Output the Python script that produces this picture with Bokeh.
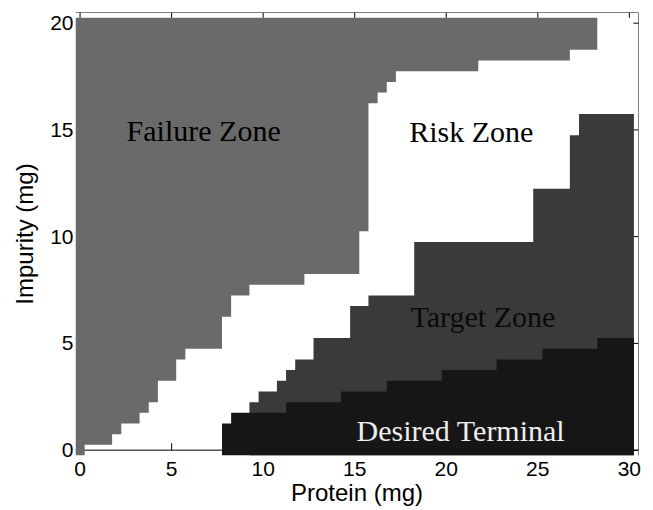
from bokeh.plotting import figure
from bokeh.models import Range1d, Span, FixedTicker
from bokeh.embed import file_html
from bokeh.resources import INLINE
from bokeh.core.properties import value

# ---- data (0.5 mg grid; each run covers grid columns from start to end) ----
grid_step = 0.5
impurity_max = 20.0

# Failure zone: column runs and the lowest impurity grid value that is failure
fail_x_start = [0.0, 0.5, 2.0, 2.5, 3.5, 4.0, 4.5, 5.5, 6.0, 8.0, 8.5, 9.5, 12.5, 15.5, 16.0, 16.5, 17.0, 17.5, 22.0, 27.0]
fail_x_end   = [0.0, 1.5, 2.0, 3.0, 3.5, 4.0, 5.0, 5.5, 7.5, 8.0, 9.0, 12.0, 15.0, 15.5, 16.0, 16.5, 17.0, 21.5, 26.5, 28.0]
fail_y_low   = [0.0, 0.5, 1.0, 1.5, 2.0, 2.5, 3.5, 4.5, 5.0, 6.5, 7.5, 8.0, 8.5, 10.5, 16.5, 17.0, 17.5, 18.0, 18.5, 19.0]

# Target zone: column runs and the highest impurity grid value in the target zone
tgt_x_start = [9.5, 10.0, 11.0, 11.5, 12.0, 13.0, 15.0, 16.0, 18.5, 25.0, 27.0, 27.5]
tgt_x_end   = [9.5, 10.5, 11.0, 11.5, 12.5, 14.5, 15.5, 18.0, 24.5, 26.5, 27.0, 30.0]
tgt_y_high  = [2.0, 2.5, 3.0, 3.5, 4.0, 5.0, 6.5, 7.0, 9.5, 12.0, 14.5, 15.5]

# Desired terminal: column runs and the highest impurity grid value
des_x_start = [8.0, 8.5, 11.5, 14.5, 17.0, 20.0, 23.0, 25.5, 28.5]
des_x_end   = [8.0, 11.0, 14.0, 16.5, 19.5, 22.5, 25.0, 28.0, 30.0]
des_y_high  = [1.0, 1.5, 2.0, 2.5, 3.0, 3.5, 4.0, 4.5, 5.0]

zone_names = ["Failure Zone", "Risk Zone", "Target Zone", "Desired Terminal"]
zone_label_x = [6.75, 21.37, 22.0, 20.8]
zone_label_y = [14.97, 14.94, 6.25, 0.9]
zone_label_colors = ["#000000", "#000000", "#0a0a0a", "#eeeeee"]

x_ticks = [0, 5, 10, 15, 20, 25, 30]
y_ticks = [0, 5, 10, 15, 20]

x_lo, x_hi = -0.25, 30.5
y_lo, y_hi = -0.25, 20.5

# ---- helpers turning runs into step outlines ----
h = grid_step / 2


def top_steps(xs, xe, yh, base):
    """Outline of a region from `base` up to a stepped top edge."""
    px = [xs[0] - h]
    py = [base]
    for s, e, t in zip(xs, xe, yh):
        px += [s - h, e + h]
        py += [t + h, t + h]
    px.append(xe[-1] + h)
    py.append(base)
    return px, py


def bottom_steps(xs, xe, yl, ceiling):
    """Outline of a region from a stepped bottom edge up to `ceiling`."""
    px = [xs[0] - h, xe[-1] + h]
    py = [ceiling, ceiling]
    for s, e, b in reversed(list(zip(xs, xe, yl))):
        px += [e + h, s - h]
        py += [b - h, b - h]
    return px, py


# ---- figure ----
p = figure(width=653, height=510,
           x_range=Range1d(x_lo, x_hi), y_range=Range1d(y_lo, y_hi),
           output_backend="svg", toolbar_location=None,
           min_border_left=75, min_border_right=15, min_border_top=12, min_border_bottom=55)
p.xgrid.visible = False
p.ygrid.visible = False
p.outline_line_color = None
p.background_fill_color = "white"
p.border_fill_color = "white"

# axis box lines (bottom line sits at impurity 0, beneath the cells)
p.add_layout(Span(location=0, dimension="width", line_color="black", line_width=1, level="underlay"))
p.add_layout(Span(location=y_hi, dimension="width", line_color="black", line_width=1))
p.add_layout(Span(location=x_hi, dimension="height", line_color="black", line_width=1))

# inward ticks (drawn first so the zone cells cover them, as in the original)
tick_y = 0.25
tick_x = 0.28
p.segment(x0=x_ticks, y0=[0] * len(x_ticks), x1=x_ticks, y1=[tick_y * 1.3] * len(x_ticks),
          line_color="black", line_width=1)
p.segment(x0=x_ticks, y0=[y_hi] * len(x_ticks), x1=x_ticks, y1=[y_hi - tick_y] * len(x_ticks),
          line_color="black", line_width=1)
p.segment(x0=[x_hi] * len(y_ticks), y0=y_ticks, x1=[x_hi - tick_x] * len(y_ticks), y1=y_ticks,
          line_color="black", line_width=1)

# zones
tx, ty = top_steps(tgt_x_start, tgt_x_end, tgt_y_high, -h)
p.patch(tx, ty, fill_color="#3a3a3a", line_color=None)
dx, dy = top_steps(des_x_start, des_x_end, des_y_high, -h)
p.patch(dx, dy, fill_color="#161616", line_color=None)
fx, fy = bottom_steps(fail_x_start, fail_x_end, fail_y_low, impurity_max + h)
p.patch(fx, fy, fill_color="#6a6a6a", line_color=None)

p.text(x=zone_label_x, y=zone_label_y, text=zone_names,
       text_font=value("Liberation Serif"), text_font_size=value("30px"),
       text_align="center", text_baseline="alphabetic", text_color=zone_label_colors)

tick_font = "21px"
lab_font = "24px"

xa = p.xaxis[0]
xa.ticker = FixedTicker(ticks=x_ticks)
xa.axis_line_color = None
xa.major_tick_line_color = None
xa.major_tick_in = 0
xa.major_tick_out = 0
xa.minor_tick_line_color = None
xa.major_label_standoff = 6
xa.major_label_text_font = "Liberation Sans"
xa.major_label_text_font_size = tick_font
xa.major_label_text_color = "black"
xa.axis_label = "Protein (mg)"
xa.axis_label_text_font = "Liberation Sans"
xa.axis_label_text_font_size = lab_font
xa.axis_label_text_font_style = "normal"
xa.axis_label_text_color = "black"
xa.axis_label_standoff = 0

ya = p.yaxis[0]
ya.ticker = FixedTicker(ticks=y_ticks)
ya.axis_line_color = None
ya.major_tick_line_color = None
ya.major_tick_in = 0
ya.major_tick_out = 0
ya.minor_tick_line_color = None
ya.major_label_standoff = 2
ya.major_label_text_font = "Liberation Sans"
ya.major_label_text_font_size = tick_font
ya.major_label_text_color = "black"
ya.axis_label = "Impurity (mg)"
ya.axis_label_text_font = "Liberation Sans"
ya.axis_label_text_font_size = lab_font
ya.axis_label_text_font_style = "normal"
ya.axis_label_text_color = "black"
ya.axis_label_standoff = 9

open("out.html", "w").write(file_html(p, INLINE))
